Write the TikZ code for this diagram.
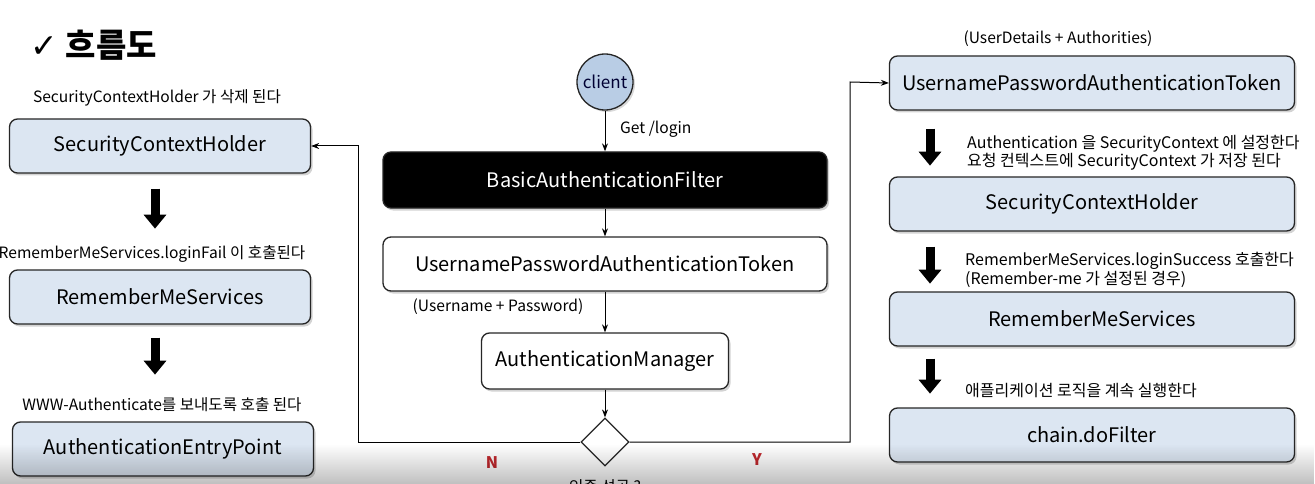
\documentclass[tikz,border=0pt]{standalone}
\usepackage{fontspec}
\setmainfont{Noto Sans CJK KR}
\newfontfamily\symfont{DejaVu Sans}
\usetikzlibrary{arrows.meta,shapes.geometric,shadows,fadings}
\definecolor{boxblue}{HTML}{DCE6F2}
\definecolor{clientblue}{HTML}{B9CDE5}
\definecolor{nyred}{HTML}{C0282D}
\tikzset{
  box/.style={draw=black!85, line width=1.3pt, rounded corners=8pt, fill=#1,
    minimum height=54pt, font=\fontsize{20}{24}\selectfont,
    drop shadow={shadow xshift=2pt, shadow yshift=-2.5pt, opacity=0.35}},
  box/.default=boxblue,
  note/.style={font=\fontsize{15.6}{18}\selectfont, inner sep=1pt},
  flow/.style={-{Stealth[length=8pt,width=6pt]}, line width=1pt},
  bigdown/.style={line width=9pt, -{Triangle[width=22pt,length=14pt]}},
}
\begin{document}
\begin{tikzpicture}[x=1pt,y=-1pt]
\useasboundingbox (0,0) rectangle (1315,484);
% 제목
\node[anchor=west, font=\fontsize{33}{36}\selectfont\bfseries] (title) at (27,45) {{\symfont ✓} 흐름도};
% 왼쪽 (실패)
\node[box, minimum width=301pt] (sch) at (160,146) {SecurityContextHolder};
\node[note] (schnote) at (157,98) {SecurityContextHolder 가 삭제 된다};
\node[box, minimum width=301pt] (rms) at (160,297) {RememberMeServices};
\node[note] (rmsnote) at (152,254) {RememberMeServices.loginFail 이 호출된다};
\node[box, minimum width=301pt] (aep) at (163,449) {AuthenticationEntryPoint};
\node[note] (aepnote) at (162,405) {WWW-Authenticate를 보내도록 호출 된다};
\draw[bigdown] ([xshift=-5pt, yshift=-15pt]sch.south) -- +(0,40);
\draw[bigdown] ([xshift=-5pt, yshift=-13pt]rms.south) -- +(0,37);
% 가운데
\node[circle, draw=black!85, line width=1.3pt, fill=clientblue, minimum size=56pt, inner sep=0pt,
  font=\fontsize{17}{20}\selectfont, text=black!80!blue, drop shadow={shadow xshift=2pt, shadow yshift=-2pt, opacity=0.3}] (client) at (605,82) {client};
\node[box=black, text=white, minimum width=444pt, minimum height=56pt] (baf) at (605,180) {BasicAuthenticationFilter};
\node[box=white, minimum width=444pt] (upat) at (605,264) {UsernamePasswordAuthenticationToken};
\node[box=white, minimum width=247pt, minimum height=56pt] (am) at (605,361) {AuthenticationManager};
\node[diamond, aspect=1, draw=black!85, line width=1.2pt, fill=white, minimum size=48pt, inner sep=0pt] (ok) at (605,442) {};
\node[note, anchor=west] (getlogin) at (619,129) {Get /login};
\node[note] (uppw) at (498,307) {(Username + Password)};
\node[font=\fontsize{16}{18}\selectfont\bfseries, text=nyred] (n) at (492,463) {N};
\node[font=\fontsize{16}{18}\selectfont\bfseries, text=nyred] (y) at (757,460) {Y};
\node[note] (okq) at (605,487) {인증 성공 ?};
\coordinate (nbend) at (358,146);
\coordinate (ybend) at (850,82);
\draw[flow] (client) -- (baf);
\draw[flow] (baf) -- (upat);
\draw[flow] (upat) -- (am);
\draw[flow] (am) -- (ok);
\draw[flow] (ok.west) -| (nbend) -- (sch.east);
% 오른쪽 (성공)
\node[box, minimum width=405pt] (rupat) at (1092,83) {UsernamePasswordAuthenticationToken};
\node[note] (udnote) at (1058,39) {(UserDetails + Authorities)};
\node[box, minimum width=405pt] (rsch) at (1092,204) {SecurityContextHolder};
\node[note, anchor=west, align=left, font=\fontsize{16}{17}\selectfont] (rschnote) at (966,153) {Authentication 을 SecurityContext 에 설정한다\\요청 컨텍스트에 SecurityContext 가 저장 된다};
\node[box, minimum width=405pt] (rrms) at (1092,319) {RememberMeServices};
\node[note, anchor=west, align=left, font=\fontsize{16}{19}\selectfont] (rrmsnote) at (964,270) {RememberMeServices.loginSuccess 호출한다\\(Remember-me 가 설정된 경우)};
\node[box, minimum width=405pt] (chain) at (1092,435) {chain.doFilter};
\node[note, anchor=west, font=\fontsize{16}{18}\selectfont] (chainnote) at (964,391) {애플리케이션 로직을 계속 실행한다};
\draw[flow] (ok.east) -| (ybend) -- (rupat.west);
\draw[bigdown] ([xshift=-162pt, yshift=-18pt]rupat.south) -- +(0,37);
\draw[bigdown] ([xshift=-162pt, yshift=-15pt]rsch.south) -- +(0,37);
\draw[bigdown] ([xshift=-162pt, yshift=-12pt]rrms.south) -- +(0,35);
% 아래 그림자
\fill[black, opacity=0.25, path fading=north] (0,444) rectangle (1315,484);
\end{tikzpicture}
\end{document}
